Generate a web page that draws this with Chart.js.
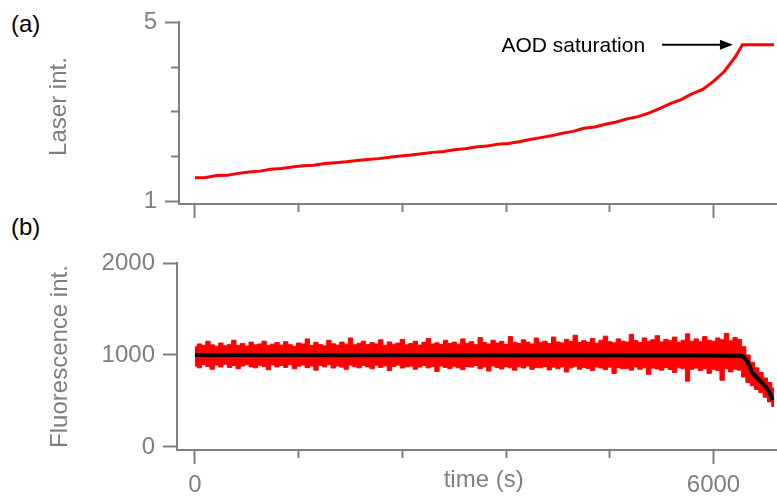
<!DOCTYPE html>
<html>
<head>
<meta charset="utf-8">
<script src="https://cdn.jsdelivr.net/npm/chart.js@4.4.1/dist/chart.umd.min.js"></script>
<style>
    html, body { margin: 0; padding: 0; background: #fff; }
    body { width: 777px; height: 499px; position: relative; overflow: hidden; font-family: 'Liberation Sans', Arial, sans-serif; }
    canvas { position: absolute; left: 0; top: 0; }
    .panel-tag { position: absolute; left: 11px; font-size: 24px; line-height: 24px; color: #000; }
</style>
</head>
<body>
<div class="panel-tag" style="top: 12px;">(a)</div>
<div class="panel-tag" style="top: 215px;">(b)</div>
<canvas id="laser-chart" width="777" height="499"></canvas>
<canvas id="fluo-chart" width="777" height="499"></canvas>
<script>
// Panel (a): laser intensity vs time
const laserTime = [
    0, 125, 250, 375, 500, 625, 750, 875, 1000, 1125, 1250, 1375, 1500, 1625, 1750, 1875,
    2000, 2125, 2250, 2375, 2500, 2625, 2750, 2875, 3000, 3125, 3250, 3375, 3500, 3625, 3750, 3875,
    4000, 4125, 4250, 4375, 4500, 4625, 4750, 4875, 5000, 5125, 5250, 5375, 5500, 5625, 5750, 5875,
    6000, 6125, 6250, 6335, 6700
];
const laserInt = [
    1.52, 1.53, 1.57, 1.58, 1.62, 1.65, 1.67, 1.71, 1.73, 1.76, 1.79, 1.80, 1.84, 1.86, 1.88, 1.91,
    1.93, 1.95, 1.98, 2.01, 2.03, 2.06, 2.09, 2.11, 2.15, 2.17, 2.21, 2.23, 2.27, 2.29, 2.33, 2.38,
    2.42, 2.46, 2.52, 2.56, 2.63, 2.66, 2.72, 2.77, 2.84, 2.89, 2.97, 3.07, 3.18, 3.27, 3.40, 3.50,
    3.68, 3.90, 4.22, 4.50, 4.50
];

// Panel (b): fluorescence, noisy trace envelope + mean
const fluoTime = [
    0, 50, 100, 150, 200, 250, 300, 350, 400, 450, 500, 550, 600, 650, 700, 750, 800, 850, 900, 950,
    1000, 1050, 1100, 1150, 1200, 1250, 1300, 1350, 1400, 1450, 1500, 1550, 1600, 1650, 1700, 1750, 1800, 1850, 1900, 1950,
    2000, 2050, 2100, 2150, 2200, 2250, 2300, 2350, 2400, 2450, 2500, 2550, 2600, 2650, 2700, 2750, 2800, 2850, 2900, 2950,
    3000, 3050, 3100, 3150, 3200, 3250, 3300, 3350, 3400, 3450, 3500, 3550, 3600, 3650, 3700, 3750, 3800, 3850, 3900, 3950,
    4000, 4050, 4100, 4150, 4200, 4250, 4300, 4350, 4400, 4450, 4500, 4550, 4600, 4650, 4700, 4750, 4800, 4850, 4900, 4950,
    5000, 5050, 5100, 5150, 5200, 5250, 5300, 5350, 5400, 5450, 5500, 5550, 5600, 5650, 5700, 5750, 5800, 5850, 5900, 5950,
    6000, 6050, 6100, 6150, 6200, 6250, 6300, 6350, 6400, 6450, 6500, 6550, 6600, 6650, 6700
];
const fluoUpper = [
    1090, 1120, 1105, 1150, 1110, 1095, 1130, 1100, 1115, 1160, 1105, 1125, 1098, 1140, 1110, 1120, 1150, 1102, 1118, 1135,
    1108, 1145, 1112, 1095, 1130, 1120, 1175, 1105, 1138, 1115, 1100, 1160, 1122, 1108, 1140, 1118, 1185, 1110, 1128, 1150,
    1112, 1135, 1120, 1165, 1105, 1142, 1118, 1130, 1170, 1110, 1125, 1150, 1108, 1138, 1180, 1120, 1132, 1115, 1160, 1125,
    1140, 1118, 1175, 1128, 1145, 1112, 1190, 1135, 1120, 1160, 1130, 1148, 1115, 1200, 1138, 1125, 1165, 1140, 1120, 1185,
    1135, 1150, 1125, 1195, 1142, 1130, 1170, 1148, 1215, 1135, 1155, 1140, 1180, 1128, 1160, 1205, 1145, 1132, 1175, 1150,
    1140, 1225, 1158, 1135, 1185, 1150, 1165, 1210, 1142, 1170, 1155, 1195, 1138, 1160, 1230, 1150, 1175, 1145, 1200, 1160,
    1150, 1185, 1165, 1235, 1155, 1190, 1170, 1090, 1000, 920, 860, 810, 750, 700, 640
];
const fluoLower = [
    880, 860, 895, 875, 845, 890, 870, 900, 865, 885, 850, 880, 895, 870, 860, 888, 875, 840, 892, 870,
    885, 865, 895, 850, 878, 890, 862, 880, 835, 885, 870, 895, 858, 880, 868, 845, 890, 872, 860, 885,
    870, 850, 888, 865, 880, 830, 875, 890, 858, 872, 880, 845, 868, 885, 860, 875, 820, 880, 865, 852,
    878, 860, 840, 875, 868, 885, 850, 870, 825, 880, 862, 848, 875, 860, 835, 872, 858, 880, 845, 865,
    860, 875, 838, 868, 850, 870, 815, 860, 878, 845, 865, 852, 830, 870, 858, 840, 868, 800, 862, 850,
    855, 835, 870, 845, 860, 790, 858, 848, 835, 865, 842, 810, 860, 850, 715, 845, 858, 830, 850, 800,
    845, 830, 725, 850, 815, 845, 835, 760, 700, 665, 625, 590, 540, 490, 440
];
const fluoMeanTime = [0, 6000, 6335, 6393, 6450, 6528, 6605, 6644, 6685];
const fluoMean = [1000, 995, 990, 928, 804, 728, 655, 601, 511];

// Ticks
const timeTicks = [0, 1200, 2400, 3600, 4800, 6000];
const timeLabels = [0, 6000];
const laserTicks = [1, 2, 3, 4, 5];
const laserLabels = [1, 5];
const fluoTicks = [0, 1000, 2000];

// Annotation
const noteText = 'AOD saturation';
const noteTip = [6225, 4.5];
const noteTail = [5405, 4.5];

const GRAY = '#7f7f7f';
const RED = '#ff0000';
const FONT = "'Liberation Sans', Arial, Helvetica, sans-serif";

Chart.defaults.font.family = FONT;
Chart.defaults.color = GRAY;
Chart.defaults.animation = false;

const toPoints = (xs, ys) => xs.map((x, i) => ({ x, y: ys[i] }));

// minor ticks are shorter: dash keeps only the part next to the axis
const bottomTickDash = (majors) => ctx => majors.includes(ctx.tick.value) ? [] : [7, 100];
const leftTickDash = (majors) => ctx => majors.includes(ctx.tick.value) ? [] : [0, 6, 7, 100];

const axisGrid = (dash) => ({
    drawOnChartArea: false,
    drawTicks: true,
    tickLength: 14,
    tickWidth: 2,
    tickColor: GRAY,
    tickBorderDash: dash
});
const axisBorder = { display: true, color: GRAY, width: 2 };

const aodNotePlugin = {
    id: 'aodNote',
    afterDraw: chart => {
        const { ctx, scales: { x, y } } = chart;
        const tipX = x.getPixelForValue(noteTip[0]);
        const tipY = y.getPixelForValue(noteTip[1]);
        const tailX = x.getPixelForValue(noteTail[0]);

        ctx.save();
        ctx.strokeStyle = '#000';
        ctx.fillStyle = '#000';
        ctx.lineWidth = 2;
        ctx.beginPath();
        ctx.moveTo(tailX, tipY);
        ctx.lineTo(tipX - 10, tipY);
        ctx.stroke();
        ctx.beginPath();
        ctx.moveTo(tipX, tipY);
        ctx.lineTo(tipX - 13, tipY - 5);
        ctx.lineTo(tipX - 13, tipY + 5);
        ctx.closePath();
        ctx.fill();
        ctx.font = `21px ${FONT}`;
        ctx.textAlign = 'right';
        ctx.textBaseline = 'middle';
        ctx.fillText(noteText, tailX - 17, tipY + 1);
        ctx.restore();
    }
};

// Laser chart
new Chart(document.getElementById('laser-chart'), {
    type: 'line',
    data: {
        datasets: [{
            label: 'Laser int.',
            data: toPoints(laserTime, laserInt),
            borderColor: RED,
            borderWidth: 3,
            pointRadius: 0,
            tension: 0
        }]
    },
    options: {
        responsive: false,
        devicePixelRatio: 1,
        layout: { padding: { top: 20, right: 0, bottom: 275, left: 0 } },
        plugins: { legend: { display: false }, tooltip: { enabled: false } },
        scales: {
            x: {
                type: 'linear',
                min: -185,
                max: 6735,
                afterBuildTicks: axis => { axis.ticks = timeTicks.map(value => ({ value })); },
                afterFit: axis => { axis.height = 20; },
                ticks: { display: false },
                grid: axisGrid(bottomTickDash(timeLabels)),
                border: axisBorder
            },
            y: {
                type: 'linear',
                min: 0.934,
                max: 5,
                afterBuildTicks: axis => { axis.ticks = laserTicks.map(value => ({ value })); },
                afterFit: axis => { axis.width = 179; },
                ticks: {
                    padding: 8,
                    color: GRAY,
                    font: { size: 24 },
                    callback: value => laserLabels.includes(value) ? String(value) : ''
                },
                grid: axisGrid(leftTickDash(laserLabels)),
                border: axisBorder,
                title: { display: true, text: '  Laser int.', color: GRAY, font: { size: 24 }, padding: { top: 45, bottom: 0 } }
            }
        }
    },
    plugins: [aodNotePlugin]
});

// Fluorescence chart
new Chart(document.getElementById('fluo-chart'), {
    type: 'line',
    data: {
        datasets: [{
            label: 'mean',
            data: toPoints(fluoMeanTime, fluoMean),
            borderColor: '#000',
            borderWidth: 4,
            pointRadius: 0,
            tension: 0,
            order: 0
        }, {
            label: 'upper',
            data: toPoints(fluoTime, fluoUpper),
            borderColor: RED,
            backgroundColor: RED,
            borderWidth: 1,
            pointRadius: 0,
            stepped: 'middle',
            fill: '+1',
            order: 1
        }, {
            label: 'lower',
            data: toPoints(fluoTime, fluoLower),
            borderColor: RED,
            borderWidth: 1,
            pointRadius: 0,
            stepped: 'middle',
            fill: false,
            order: 2
        }]
    },
    options: {
        responsive: false,
        devicePixelRatio: 1,
        layout: { padding: { top: 263, right: 0, bottom: 0, left: 0 } },
        plugins: { legend: { display: false }, tooltip: { enabled: false } },
        scales: {
            x: {
                type: 'linear',
                min: -208,
                max: 6735,
                afterBuildTicks: axis => { axis.ticks = timeTicks.map(value => ({ value })); },
                afterFit: axis => { axis.height = 49; },
                ticks: {
                    padding: 7,
                    color: GRAY,
                    font: { size: 24 },
                    maxRotation: 0,
                    autoSkip: false,
                    callback: value => timeLabels.includes(value) ? String(value) : ''
                },
                grid: axisGrid(bottomTickDash(timeLabels)),
                border: axisBorder,
                title: { display: true, text: '  time (s)', color: GRAY, font: { size: 24 }, padding: { top: 0, bottom: 4 } }
            },
            y: {
                type: 'linear',
                min: -33,
                max: 2000,
                afterBuildTicks: axis => { axis.ticks = fluoTicks.map(value => ({ value })); },
                afterFit: axis => { axis.width = 177; },
                ticks: {
                    padding: 8,
                    color: GRAY,
                    font: { size: 24 },
                    callback: value => String(value)
                },
                grid: axisGrid([]),
                border: axisBorder,
                title: { display: true, text: 'Fluorescence int.', color: GRAY, font: { size: 24 }, padding: { top: 46, bottom: 0 } }
            }
        }
    }
});
</script>
</body>
</html>
